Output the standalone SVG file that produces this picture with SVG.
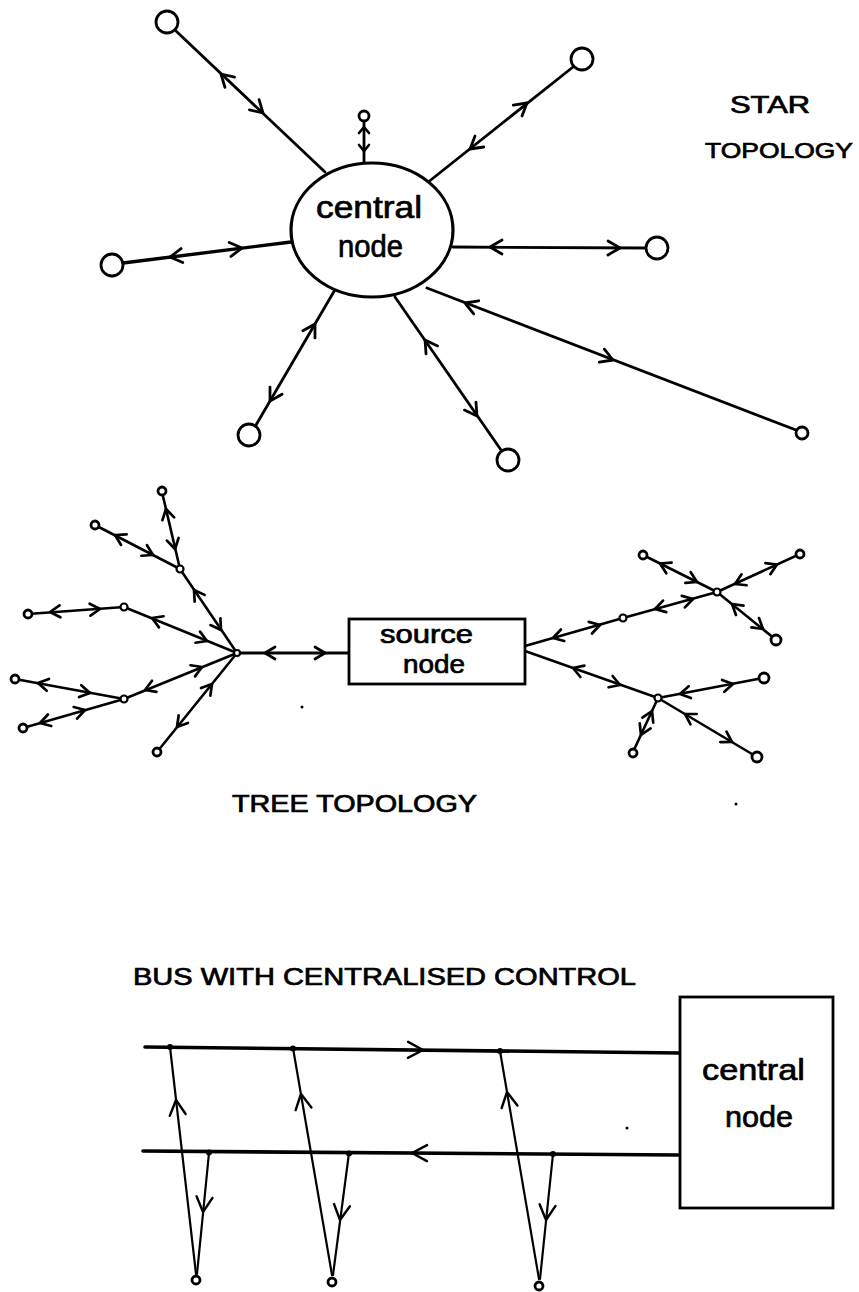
<svg xmlns="http://www.w3.org/2000/svg" width="859" height="1292" viewBox="0 0 859 1292">
<defs>
<style>
.ln{stroke:#000;stroke-width:2.8;fill:none;stroke-linecap:round}
.lt{stroke:#000;stroke-width:2.6;fill:none;stroke-linecap:round}
.lb{stroke:#000;stroke-width:3.6;fill:none;stroke-linecap:round}
.lv{stroke:#000;stroke-width:2.2;fill:none;stroke-linecap:round}
.ar{fill:none;stroke:none;marker-end:url(#chev)}
.at{fill:none;stroke:none;marker-end:url(#chevT)}
.ax{fill:none;stroke:none;marker-end:url(#chevXS)}
.ab{fill:none;stroke:none;marker-end:url(#chevB)}
.nd{fill:#fff;stroke:#000;stroke-width:2.8}
.jn{fill:#fff;stroke:#000;stroke-width:2.2}
.dt{fill:#000}
.tx{font-family:"Liberation Sans",Arial,sans-serif;fill:#000;stroke:#000;stroke-width:0.7}
</style>
<marker id="chev" markerUnits="userSpaceOnUse" orient="auto" refX="0" refY="0" markerWidth="30" markerHeight="30" viewBox="-15 -15 30 30" overflow="visible">
<path d="M-12,-7 L0,0 L-12,7" fill="none" stroke="#000" stroke-width="2.8" stroke-linecap="round" stroke-linejoin="round"/>
</marker>
<marker id="chevT" markerUnits="userSpaceOnUse" orient="auto" refX="0" refY="0" markerWidth="30" markerHeight="30" viewBox="-15 -15 30 30" overflow="visible">
<path d="M-10,-6 L0,0 L-10,6" fill="none" stroke="#000" stroke-width="2.7" stroke-linecap="round" stroke-linejoin="round"/>
</marker>
<marker id="chevXS" markerUnits="userSpaceOnUse" orient="auto" refX="0" refY="0" markerWidth="20" markerHeight="20" viewBox="-10 -10 20 20" overflow="visible">
<path d="M-6,-5 L0,0 L-6,5" fill="none" stroke="#000" stroke-width="2.6" stroke-linecap="round" stroke-linejoin="round"/>
</marker>
<marker id="chevB" markerUnits="userSpaceOnUse" orient="auto" refX="0" refY="0" markerWidth="40" markerHeight="40" viewBox="-20 -20 40 40" overflow="visible">
<path d="M-15,-8 L0,0 L-15,8" fill="none" stroke="#000" stroke-width="2.4" stroke-linecap="round" stroke-linejoin="round"/>
</marker>
</defs>
<rect x="0" y="0" width="859" height="1292" fill="#fff"/>

<g id="connectors">
<!-- star spokes -->
<path class="ln" d="M325,172 L176,31"/>
<path class="ar" d="M325,172 L221,74"/>
<path class="ar" d="M176,31 L263,113"/>
<path class="ln" d="M364,162 L364,121"/>
<path class="ax" d="M364,162 L364,127"/>
<path class="ax" d="M364,121 L364,151"/>
<path class="ln" d="M427,183 L573,67"/>
<path class="ar" d="M427,183 L527,103"/>
<path class="ar" d="M573,67 L470,149"/>
<path class="ln" d="M291,242 L123,263" style="stroke-width:3.4"/>
<path class="ar" d="M291,242 L170,257"/>
<path class="ar" d="M123,263 L242,248"/>
<path class="ln" d="M453,247 L646,248"/>
<path class="ar" d="M453,247 L620,248"/>
<path class="ar" d="M646,248 L490,247"/>
<path class="ln" d="M427,288 L796,430"/>
<path class="ar" d="M427,288 L613,360"/>
<path class="ar" d="M796,430 L465,303"/>
<path class="ln" d="M395,297 L501,450"/>
<path class="ar" d="M395,297 L477,416"/>
<path class="ar" d="M501,450 L425,340"/>
<path class="ln" d="M336,288 L256,425"/>
<path class="ar" d="M336,288 L270,401"/>
<path class="ar" d="M256,425 L315,324"/>

<!-- tree left -->
<path class="lt" d="M237,653 L349,653" style="stroke-width:3"/>
<path class="at" d="M237,653 L325,653"/>
<path class="at" d="M349,653 L265,653"/>
<path class="lt" d="M237,653 L180,569"/>
<path class="at" d="M237,653 L194,590"/>
<path class="at" d="M180,569 L221,630"/>
<path class="lt" d="M180,569 L162,492"/>
<path class="at" d="M180,569 L166,509"/>
<path class="at" d="M162,492 L175,549"/>
<path class="lt" d="M180,569 L95,525"/>
<path class="at" d="M180,569 L115,535"/>
<path class="at" d="M95,525 L153,555"/>
<path class="lt" d="M237,653 L124,607"/>
<path class="at" d="M237,653 L152,618"/>
<path class="at" d="M124,607 L207,641"/>
<path class="lt" d="M124,607 L28,614"/>
<path class="at" d="M124,607 L50,612"/>
<path class="at" d="M28,614 L100,609"/>
<path class="lt" d="M237,653 L124,699"/>
<path class="at" d="M124,699 L202,667"/>
<path class="at" d="M237,653 L145,690"/>
<path class="lt" d="M124,699 L15,679"/>
<path class="at" d="M124,699 L38,683"/>
<path class="at" d="M15,679 L90,693"/>
<path class="lt" d="M124,699 L23,728"/>
<path class="at" d="M124,699 L40,723"/>
<path class="at" d="M23,728 L85,710"/>
<path class="lt" d="M237,653 L157,752"/>
<path class="at" d="M157,752 L212,684"/>
<path class="at" d="M237,653 L177,727"/>

<!-- tree right -->
<path class="lt" d="M525,646 L623,618"/>
<path class="at" d="M623,618 L553,638"/>
<path class="at" d="M525,646 L600,625"/>
<path class="lt" d="M623,618 L717,592"/>
<path class="at" d="M717,592 L655,609"/>
<path class="at" d="M623,618 L693,599"/>
<path class="lt" d="M717,592 L643,555"/>
<path class="at" d="M717,592 L660,563.5"/>
<path class="at" d="M643,555 L697,582"/>
<path class="lt" d="M717,592 L800,554"/>
<path class="at" d="M717,592 L777,564.5"/>
<path class="at" d="M800,554 L735,584"/>
<path class="lt" d="M717,592 L775,639"/>
<path class="at" d="M775,639 L732,604"/>
<path class="at" d="M717,592 L763,629"/>
<path class="lt" d="M525,651 L658,698"/>
<path class="at" d="M658,698 L573,668"/>
<path class="at" d="M525,651 L620,685"/>
<path class="lt" d="M658,698 L763,678"/>
<path class="at" d="M763,678 L680,694"/>
<path class="at" d="M658,698 L733,684"/>
<path class="lt" d="M658,698 L757,757"/>
<path class="at" d="M757,757 L685,714"/>
<path class="at" d="M658,698 L732,742"/>
<path class="lt" d="M658,698 L633,752"/>
<path class="at" d="M633,752 L652,711"/>
<path class="at" d="M658,698 L641,735"/>

<!-- bus -->
<path class="lb" d="M145,1047 L680,1053"/>
<path class="ab" d="M145,1047 L423,1050"/>
<path class="lb" d="M143,1151 L678,1155"/>
<path class="ab" d="M678,1155 L412,1153"/>
<path class="lv" d="M196,1274 L170,1047"/>
<path class="ab" d="M196,1274 L176,1100"/>
<path class="lv" d="M209,1153 L197,1274"/>
<path class="ab" d="M209,1153 L203,1212"/>
<path class="lv" d="M332,1275 L293,1048"/>
<path class="ab" d="M332,1275 L301,1094"/>
<path class="lv" d="M349,1153 L333,1275"/>
<path class="ab" d="M349,1153 L340,1220"/>
<path class="lv" d="M539,1279 L500,1051"/>
<path class="ab" d="M539,1279 L507,1092"/>
<path class="lv" d="M553,1154 L540,1279"/>
<path class="ab" d="M553,1154 L546,1220"/>
</g>

<!-- star nodes -->
<g id="star-central">
<ellipse cx="372" cy="230" rx="81" ry="67" fill="#fff" stroke="#000" stroke-width="3.2"/>
<text class="tx" x="316" y="218" font-size="31" textLength="106" lengthAdjust="spacingAndGlyphs">central</text>
<text class="tx" x="338" y="257" font-size="31" textLength="65" lengthAdjust="spacingAndGlyphs">node</text>
</g>
<g id="star-n1"><circle class="nd" cx="167" cy="22" r="11"/></g>
<g id="star-n2"><circle class="nd" cx="364" cy="116" r="5"/></g>
<g id="star-n3"><circle class="nd" cx="582" cy="59" r="11"/></g>
<g id="star-n4"><circle class="nd" cx="112" cy="265" r="11"/></g>
<g id="star-n5"><circle class="nd" cx="657" cy="248" r="11"/></g>
<g id="star-n6"><circle class="nd" cx="802" cy="433" r="6"/></g>
<g id="star-n7"><circle class="nd" cx="508" cy="460" r="11"/></g>
<g id="star-n8"><circle class="nd" cx="249" cy="435" r="11"/></g>
<g id="star-label">
<text class="tx" x="730" y="113" font-size="23" textLength="80" lengthAdjust="spacingAndGlyphs">STAR</text>
<text class="tx" x="705" y="158" font-size="22" textLength="148" lengthAdjust="spacingAndGlyphs">TOPOLOGY</text>
</g>

<!-- tree nodes -->
<g id="tree-source">
<rect x="349" y="619" width="176" height="65" fill="#fff" stroke="#000" stroke-width="2.8"/>
<text class="tx" x="380" y="643" font-size="25" textLength="93" lengthAdjust="spacingAndGlyphs">source</text>
<text class="tx" x="403" y="673" font-size="25" textLength="62" lengthAdjust="spacingAndGlyphs">node</text>
</g>
<g id="tree-hub"><circle class="jn" cx="237" cy="653" r="3"/></g>
<g id="tree-j1"><circle class="jn" cx="180" cy="569" r="3.5"/></g>
<g id="tree-j2"><circle class="jn" cx="124" cy="607" r="3.5"/></g>
<g id="tree-j3"><circle class="jn" cx="124" cy="699" r="3.5"/></g>
<g id="tree-l1"><circle class="nd" cx="162" cy="491" r="4"/></g>
<g id="tree-l2"><circle class="nd" cx="95" cy="525" r="4"/></g>
<g id="tree-l3"><circle class="nd" cx="28" cy="614" r="4"/></g>
<g id="tree-l4"><circle class="nd" cx="15" cy="679" r="4"/></g>
<g id="tree-l5"><circle class="nd" cx="23" cy="728" r="4"/></g>
<g id="tree-l6"><circle class="nd" cx="157" cy="752" r="4"/></g>
<g id="tree-j4"><circle class="jn" cx="623" cy="618" r="3.5"/></g>
<g id="tree-j5"><circle class="jn" cx="717" cy="592" r="3.5"/></g>
<g id="tree-j6"><circle class="jn" cx="658" cy="698" r="3.5"/></g>
<g id="tree-r1"><circle class="nd" cx="643" cy="555" r="4"/></g>
<g id="tree-r2"><circle class="nd" cx="800" cy="554" r="4"/></g>
<g id="tree-r3"><circle class="nd" cx="776" cy="640" r="5"/></g>
<g id="tree-r4"><circle class="nd" cx="764" cy="678" r="5"/></g>
<g id="tree-r5"><circle class="nd" cx="757" cy="757" r="5"/></g>
<g id="tree-r6"><circle class="nd" cx="633" cy="753" r="4"/></g>
<g id="tree-label">
<text class="tx" x="232" y="812" font-size="23" textLength="245" lengthAdjust="spacingAndGlyphs">TREE TOPOLOGY</text>
</g>

<!-- bus nodes -->
<g id="bus-label">
<text class="tx" x="133" y="985" font-size="23" textLength="503" lengthAdjust="spacingAndGlyphs">BUS WITH CENTRALISED CONTROL</text>
</g>
<g id="bus-central">
<rect x="680" y="997" width="153" height="211" fill="#fff" stroke="#000" stroke-width="2.8"/>
<text class="tx" x="702" y="1080" font-size="30" textLength="103" lengthAdjust="spacingAndGlyphs">central</text>
<text class="tx" x="725" y="1127" font-size="30" textLength="68" lengthAdjust="spacingAndGlyphs">node</text>
</g>
<g id="bus-taps">
<circle class="dt" cx="170" cy="1047" r="3"/>
<circle class="dt" cx="293" cy="1048.5" r="3"/>
<circle class="dt" cx="500" cy="1051" r="3"/>
<circle class="dt" cx="209" cy="1152.5" r="3"/>
<circle class="dt" cx="349" cy="1153.5" r="3"/>
<circle class="dt" cx="553" cy="1154" r="3"/>
</g>
<g id="bus-s1"><circle class="nd" cx="196" cy="1280" r="4"/></g>
<g id="bus-s2"><circle class="nd" cx="332" cy="1282" r="4"/></g>
<g id="bus-s3"><circle class="nd" cx="539" cy="1286" r="4"/></g>

<g id="specks">
<circle class="dt" cx="302" cy="707" r="1.5"/>
<circle class="dt" cx="736" cy="804" r="1.5"/>
<circle class="dt" cx="627" cy="1128" r="1.5"/>
</g>
</svg>
